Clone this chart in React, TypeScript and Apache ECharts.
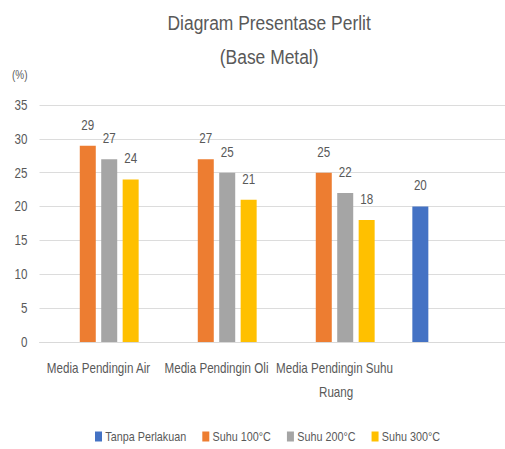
import React, { useEffect, useRef } from "react";
import * as echarts from "echarts";

const categories = ["Media Pendingin Air", "Media Pendingin Oli", "Media Pendingin Suhu Ruang", ""];
const seriesNames = ["Tanpa Perlakuan", "Suhu 100°C", "Suhu 200°C", "Suhu 300°C"];
const tanpaPerlakuan = [null, null, null, 20];
const suhu100 = [29, 27, 25, null];
const suhu200 = [27, 25, 22, null];
const suhu300 = [24, 21, 18, null];
const colors = ["#4472C4", "#ED7D31", "#A5A5A5", "#FFC000"];

const FONT = "'Liberation Sans', Arial, sans-serif";
const TEXT = "#595959";
const SX = 0.83; // horizontal compression of the reference picture
const W = 505;
const H = 449;
const INNER_W = Math.ceil(525 / SX);
const px = (v: number) => v / SX;

export default function App() {
  const ref = useRef<HTMLDivElement>(null);
  useEffect(() => {
    document.body.style.margin = "0";
    if (!ref.current) return;
    const chart = echarts.init(ref.current, null, { renderer: "svg" });
    const values = [tanpaPerlakuan, suhu100, suhu200, suhu300];
    chart.setOption({
      animation: false,
      textStyle: { fontFamily: FONT },
      title: {
        text: "Diagram Presentase Perlit\n(Base Metal)",
        left: px(265),
        top: 1,
        textAlign: "center",
        textStyle: { fontFamily: FONT, fontSize: 21, fontWeight: "normal", color: TEXT, lineHeight: 34 },
      },
      graphic: [
        {
          type: "text",
          left: px(12),
          top: 69,
          style: { text: "(%)", fontFamily: FONT, fontSize: 12, fill: TEXT },
        },
      ],
      legend: {
        left: px(95) - 5,
        top: 425,
        itemWidth: px(7),
        itemHeight: 10,
        itemGap: px(16),
        icon: "rect",
        data: seriesNames,
        textStyle: { fontFamily: FONT, fontSize: 13, color: TEXT, padding: [0, 0, 0, -1] },
      },
      grid: { left: px(39.5), top: 105, width: px(472), height: 237, containLabel: false },
      xAxis: {
        type: "category",
        data: categories,
        axisLine: { lineStyle: { color: "#D9D9D9" } },
        axisTick: { show: false },
        axisLabel: {
          interval: 0,
          margin: 14,
          width: px(120),
          overflow: "break",
          fontFamily: FONT,
          fontSize: 14,
          lineHeight: 24,
          color: TEXT,
        },
      },
      yAxis: {
        type: "value",
        min: 0,
        max: 35,
        interval: 5,
        axisLine: { show: false },
        axisTick: { show: false },
        splitLine: { lineStyle: { color: "#D9D9D9", width: 1 } },
        axisLabel: { margin: px(12), fontFamily: FONT, fontSize: 14, color: TEXT },
      },
      series: seriesNames.map((name, i) => ({
        name,
        type: "bar",
        data: values[i],
        barWidth: px(16),
        barGap: "34%",
        itemStyle: { color: colors[i] },
        label: {
          show: true,
          position: "top",
          distance: 14,
          fontFamily: FONT,
          fontSize: 14,
          color: TEXT,
        },
      })),
    });
    return () => chart.dispose();
  }, []);
  return (
    <div style={{ width: W, height: H, overflow: "hidden", position: "relative" }}>
      <div
        ref={ref}
        style={{
          width: INNER_W,
          height: H,
          transform: `scaleX(${SX})`,
          transformOrigin: "0 0",
        }}
      />
    </div>
  );
}
